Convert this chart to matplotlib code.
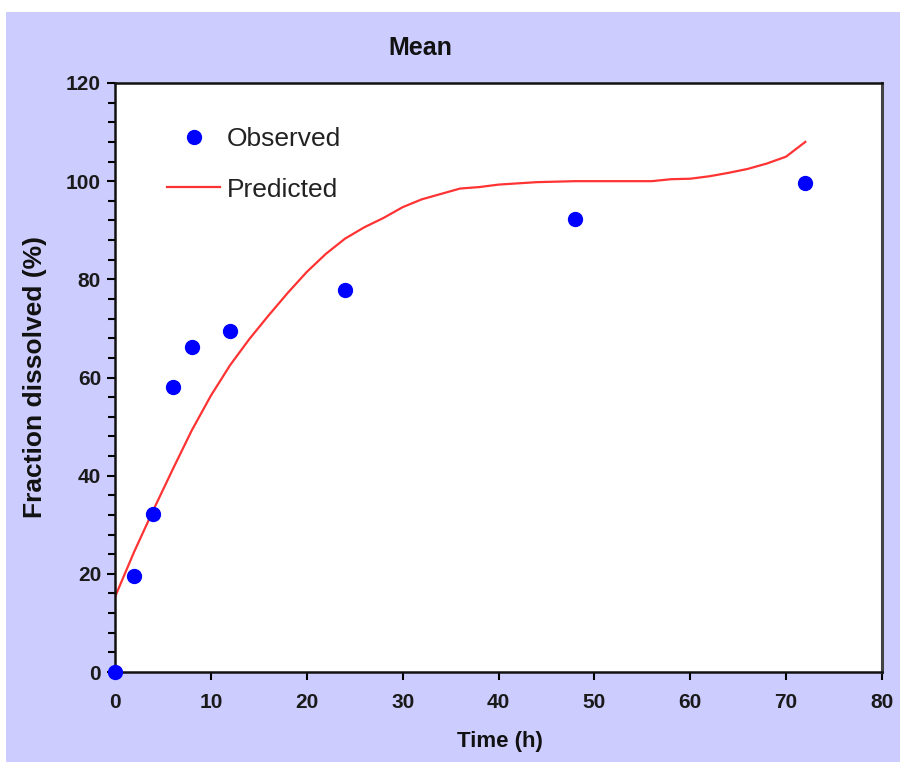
import matplotlib.pyplot as plt
from matplotlib.patches import Rectangle
from matplotlib.ticker import MultipleLocator

# Observed dissolution (mean)
obs_time = [0, 2, 4, 6, 8, 12, 24, 48, 72]
obs_frac = [0, 19.6, 32.2, 58.0, 66.3, 69.4, 77.8, 92.2, 99.6]

# Predicted curve
pred_time = [0, 2, 4, 6, 8, 10, 12, 14, 16, 18, 20, 22, 24, 26, 28, 30, 32,
             34, 36, 38, 40, 44, 48, 52, 56, 58, 60, 62, 64, 66, 68, 70, 72]
pred_frac = [15.3, 24.5, 33.0, 41.2, 49.2, 56.3, 62.5, 67.8, 72.6, 77.2, 81.5,
             85.2, 88.3, 90.6, 92.5, 94.7, 96.3, 97.4, 98.5, 98.8, 99.3, 99.8,
             100.0, 100.0, 100.0, 100.4, 100.5, 101.0, 101.7, 102.5, 103.6,
             105.0, 108.0]

plt.rcParams['font.family'] = ['Liberation Sans', 'DejaVu Sans']

fig = plt.figure(figsize=(9, 7.62), dpi=100, facecolor='white')
# lavender panel (white strip at top and left edge as in the original)
fig.patches.append(Rectangle((6 / 900, 0), 1, 1 - 12 / 762, transform=fig.transFigure,
                             facecolor='#ccccff', edgecolor='none', zorder=-1))

ax = fig.add_axes([115 / 900, 90 / 762, 767 / 900, 589 / 762])
ax.set_facecolor('white')

ax.plot(obs_time, obs_frac, 'o', color='#0000ff', markersize=10, label='Observed',
        clip_on=False, zorder=3)
ax.plot(pred_time, pred_frac, '-', color='#ff3333', linewidth=1.6, label='Predicted')

ax.set_xlim(0, 80)
ax.set_ylim(0, 120)
ax.xaxis.set_major_locator(MultipleLocator(10))
ax.yaxis.set_major_locator(MultipleLocator(20))
ax.yaxis.set_minor_locator(MultipleLocator(4))

ax.tick_params(axis='both', which='major', direction='out', length=6, width=1.5,
               labelsize=15, pad=4)
ax.tick_params(axis='x', which='major', pad=9)
ax.tick_params(axis='y', which='minor', direction='out', length=5, width=1.5)
for lab in ax.get_xticklabels() + ax.get_yticklabels():
    lab.set_fontweight('bold')
    lab.set_color('#1a1a1a')

for side in ['left', 'bottom', 'top']:
    ax.spines[side].set_linewidth(1.8)
    ax.spines[side].set_color('#111111')
ax.spines['right'].set_linewidth(2.2)
ax.spines['right'].set_color('#444444')

fig.text(420 / 900, 1 - 48 / 762, 'Mean', ha='center', va='center',
         fontsize=18, fontweight='bold', color='#111111')
fig.text(500 / 900, 1 - 742 / 762, 'Time (h)', ha='center', va='center',
         fontsize=16, fontweight='bold', color='#111111')
fig.text(35 / 900, 1 - 377 / 762, 'Fraction dissolved (%)', ha='center', va='center',
         rotation=90, fontsize=19, fontweight='bold', color='#111111')

leg = ax.legend(loc='upper left', bbox_to_anchor=(0.068, 0.925), frameon=False,
                fontsize=19, handlelength=2.0, handletextpad=0.25, labelspacing=1.0,
                borderpad=0, borderaxespad=0)
for t in leg.get_texts():
    t.set_color('#222222')

fig.savefig('out.png', dpi=100, facecolor=fig.get_facecolor())
